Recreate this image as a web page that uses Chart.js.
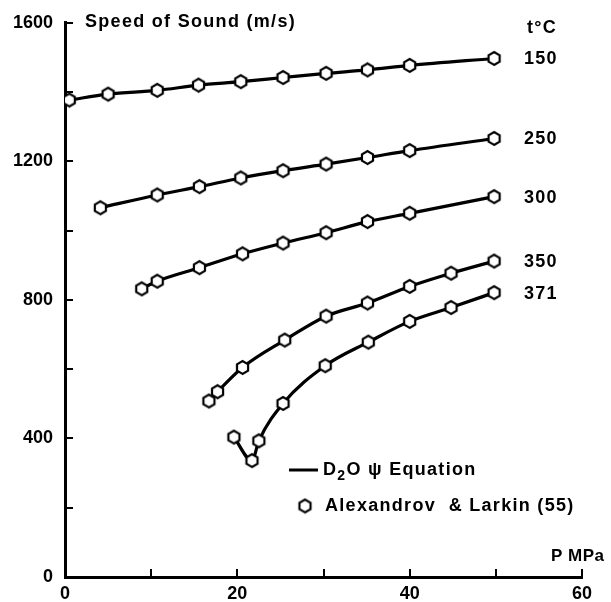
<!DOCTYPE html>
<html>
<head>
<meta charset="utf-8">
<script src="https://cdn.jsdelivr.net/npm/chart.js@4.4.1/dist/chart.umd.min.js"></script>
<style>
  html, body { margin: 0; padding: 0; background: #fff; }
  #wrap { width: 611px; height: 602px; }
</style>
</head>
<body>
<div id="wrap"><canvas id="c" width="611" height="602"></canvas></div>
<script>
// ---- Data ----
const seriesLabels = ["150", "250", "300", "350", "371"];
const p150 = [0.5, 5, 10.7, 15.5, 20.4, 25.3, 30.3, 35.1, 40, 49.8];
const v150 = [1377, 1394, 1405, 1420, 1430, 1442, 1454, 1464, 1477, 1497];
const p250 = [4.1, 10.7, 15.6, 20.4, 25.3, 30.3, 35.1, 40, 49.8];
const v250 = [1066, 1103, 1127, 1152, 1173, 1192, 1211, 1231, 1266];
const p300 = [8.9, 10.7, 15.6, 20.6, 25.3, 30.3, 35.1, 40, 49.8];
const v300 = [832, 854, 893, 933, 964, 994, 1026, 1050, 1098];
const p350 = [16.7, 17.7, 20.6, 25.5, 30.3, 35.1, 40, 44.8, 49.8];
const v350 = [508, 535, 605, 684, 753, 791, 839, 877, 912];
const p371 = [19.6, 21.7, 22.5, 25.3, 30.2, 35.2, 40, 44.8, 49.8];
const v371 = [404, 336, 393, 501, 610, 678, 738, 778, 821];
const xTickLabels = [0, 20, 40, 60];
const yTickLabels = [0, 400, 800, 1200, 1600];
const xMinorTicks = [10, 20, 30, 40, 50, 60];
const yMinorTicks = [200, 400, 600, 800, 1000, 1200, 1400, 1600];
const yTitle = "Speed of Sound (m/s)";
const xTitle = "P MPa";
const tempTitle = "t°C";
const legendLine = ["D", "2", "O \u03C8 Equation"];
const legendPoints = "Alexandrov  & Larkin (55)";

// ---- hexagon marker ----
function makeHex(r, lw) {
  const size = Math.ceil(2 * r + lw + 2);
  const cv = document.createElement('canvas');
  cv.width = size; cv.height = size;
  const g = cv.getContext('2d');
  g.translate(size / 2, size / 2);
  g.beginPath();
  for (let i = 0; i < 6; i++) {
    const a = Math.PI / 2 + i * Math.PI / 3;
    const x = r * Math.cos(a), y = r * Math.sin(a);
    if (i === 0) g.moveTo(x, y); else g.lineTo(x, y);
  }
  g.closePath();
  g.fillStyle = '#fff';
  g.fill();
  g.lineWidth = lw;
  g.strokeStyle = '#000';
  g.stroke();
  return cv;
}
const hex = makeHex(6.4, 2.2);

function pts(px, vy) { return px.map((p, i) => ({ x: p, y: vy[i] })); }
const allP = [p150, p250, p300, p350, p371];
const allV = [v150, v250, v300, v350, v371];

const datasets = allP.map((p, i) => ({
  label: seriesLabels[i],
  data: pts(p, allV[i]),
  showLine: true,
  borderColor: '#000',
  borderWidth: 3.2,
  cubicInterpolationMode: 'monotone',
  pointStyle: hex,
  pointRadius: 7,
  pointHoverRadius: 7
}));

const FONT = '"Liberation Sans", Arial, Helvetica, sans-serif';

const decor = {
  id: 'decor',
  beforeDraw(chart) {
    const ctx = chart.ctx;
    ctx.save();
    ctx.fillStyle = '#fff';
    ctx.fillRect(0, 0, chart.width, chart.height);
    ctx.restore();
  },
  afterDraw(chart) {
    const ctx = chart.ctx;
    const xs = chart.scales.x, ys = chart.scales.y;
    const area = chart.chartArea;
    ctx.save();
    ctx.strokeStyle = '#000';
    ctx.lineWidth = 2;
    // inward ticks
    xMinorTicks.forEach(v => {
      const x = Math.round(xs.getPixelForValue(v));
      ctx.beginPath(); ctx.moveTo(x, area.bottom); ctx.lineTo(x, area.bottom - 8); ctx.stroke();
    });
    yMinorTicks.forEach(v => {
      const y = Math.round(ys.getPixelForValue(v));
      ctx.beginPath(); ctx.moveTo(area.left, y); ctx.lineTo(area.left + 8, y); ctx.stroke();
    });
    // texts
    ctx.fillStyle = '#000';
    ctx.textBaseline = 'middle';
    ctx.textAlign = 'left';
    ctx.font = 'bold 18px ' + FONT;
    ctx.letterSpacing = '1.3px';
    ctx.fillText(yTitle, 85, 22);
    ctx.fillText(tempTitle, 527, 28);
    allP.forEach((p, i) => {
      const last = p.length - 1;
      const y = ys.getPixelForValue(allV[i][last]);
      ctx.fillText(seriesLabels[i], 524, y + 1);
    });
    ctx.letterSpacing = '0.5px';
    ctx.font = 'bold 17px ' + FONT;
    ctx.fillText(xTitle, 551, 556);
    ctx.letterSpacing = '1.3px';
    ctx.font = 'bold 18px ' + FONT;
    // legend
    ctx.lineWidth = 3;
    ctx.beginPath(); ctx.moveTo(289, 470); ctx.lineTo(318, 470); ctx.stroke();
    let x = 323;
    ctx.fillText(legendLine[0], x, 470);
    x += ctx.measureText(legendLine[0]).width;
    ctx.font = 'bold 14px ' + FONT;
    ctx.fillText(legendLine[1], x, 476);
    x += ctx.measureText(legendLine[1]).width;
    ctx.font = 'bold 18px ' + FONT;
    ctx.fillText(legendLine[2], x, 470);
    ctx.drawImage(hex, 305 - hex.width / 2, 506 - hex.height / 2);
    ctx.fillText(legendPoints, 325, 506);
    ctx.restore();
  }
};

new Chart(document.getElementById('c'), {
  type: 'scatter',
  data: { datasets },
  plugins: [decor],
  options: {
    responsive: false,
    animation: false,
    events: [],
    layout: { padding: { top: 22, right: 29, left: 0, bottom: 0 } },
    plugins: { legend: { display: false }, tooltip: { enabled: false } },
    scales: {
      x: {
        type: 'linear', min: 0, max: 60,
        afterFit(s) { s.height = 25; },
        afterBuildTicks(s) { s.ticks = xTickLabels.map(v => ({ value: v })); },
        ticks: { color: '#000', font: { family: FONT, size: 18, weight: 'bold' }, padding: 6, maxRotation: 0,
                 callback: v => String(v) },
        grid: { drawOnChartArea: false, drawTicks: false },
        border: { display: true, color: '#000', width: 3 }
      },
      y: {
        type: 'linear', min: 0, max: 1600,
        afterFit(s) { s.width = 65; },
        afterBuildTicks(s) { s.ticks = yTickLabels.map(v => ({ value: v })); },
        ticks: { color: '#000', font: { family: FONT, size: 18, weight: 'bold' }, padding: 12,
                 callback: v => String(v) },
        grid: { drawOnChartArea: false, drawTicks: false },
        border: { display: true, color: '#000', width: 3 }
      }
    }
  }
});
</script>
</body>
</html>
